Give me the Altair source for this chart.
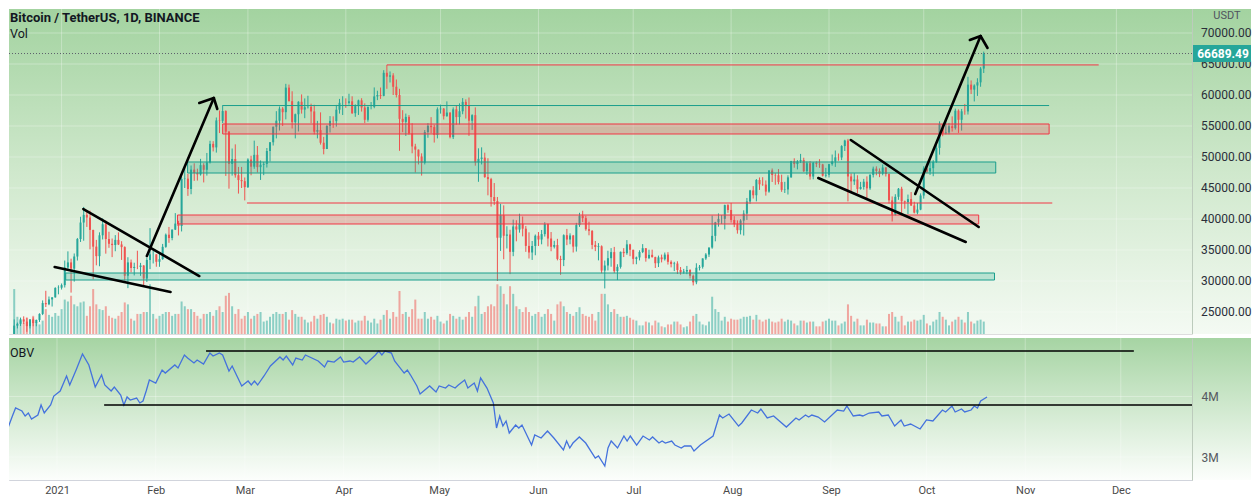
import altair as alt
import pandas as pd

TEAL = "#26a69a"
RED = "#ef5350"

# ---------------- candle data (BTCUSDT 1D, BINANCE) ----------------
# day index = days from 2021-01-01; each month list starts at its first day
start_dec, start_jan, start_feb, start_mar, start_apr, start_may = -15, 0, 31, 59, 90, 120
start_jun, start_jul, start_aug, start_sep, start_oct = 151, 181, 212, 243, 273
open_first = 21300

close_dec = [22800, 23100, 23820, 23450, 22720, 23810, 23220, 23720, 24690, 26440, 26250, 27030, 27360, 28880, 28920]
high_dec = [23800, 23300, 24100, 24300, 24100, 23840, 24150, 23780, 24790, 26870, 28420, 27500, 27400, 28990, 29300]
low_dec = [21200, 22350, 22750, 23060, 21800, 22350, 22700, 22700, 23400, 24500, 25800, 26100, 25880, 27320, 27850]
vol_dec = [235, 90, 70, 60, 85, 70, 95, 60, 50, 70, 130, 100, 90, 110, 95]

close_jan = [29330, 32180, 33000, 31990, 33950, 36770, 39430, 40670, 40240, 38240, 35540, 34010, 37370, 39150, 36770, 36000,
             35800, 36630, 35890, 35470, 30850, 33000, 32100, 32270, 32260, 32500, 30400, 33400, 34300, 34300, 33100]
high_jan = [29600, 33300, 34780, 33600, 34440, 36940, 40360, 41950, 41380, 41350, 38260, 36630, 37850, 40100, 39750, 37950,
            36850, 37400, 37850, 36420, 35600, 33830, 33460, 32950, 34880, 32920, 32560, 33780, 38530, 34930, 34320]
low_jan = [28620, 28950, 31960, 28130, 29900, 33300, 36300, 36500, 38720, 35110, 30260, 32530, 32380, 36700, 34410, 35350,
           33850, 34800, 35800, 33400, 30070, 28850, 31390, 30900, 31910, 30830, 29240, 29840, 31920, 32830, 32300]
vol_jan = [130, 180, 170, 200, 155, 145, 165, 170, 95, 145, 235, 155, 130, 125, 145, 95,
           85, 80, 95, 115, 165, 155, 80, 70, 105, 105, 115, 115, 260, 105, 80]

close_feb = [33530, 35510, 37470, 36930, 38290, 39260, 38870, 46450, 46510, 44840, 47970, 47410, 47190, 48690,
             47940, 49130, 52120, 51550, 55900, 55840, 57410, 54090, 48890, 49680, 47060, 46280, 46100, 45140]
high_feb = [34700, 35980, 37660, 38720, 38310, 40950, 39700, 46800, 48200, 47300, 48630, 48990, 48120, 49700,
            49000, 50650, 52620, 52550, 56370, 57500, 58350, 57530, 54190, 51370, 52040, 48400, 48400, 46700]
low_feb = [32290, 33420, 35360, 36160, 36570, 38220, 37350, 37990, 45000, 43730, 43990, 46150, 46200, 47000,
           45900, 47000, 48950, 50900, 50710, 53860, 55470, 46950, 44890, 47000, 46670, 44100, 45000, 43000]
vol_feb = [95, 105, 115, 115, 95, 105, 105, 170, 145, 130, 130, 115, 95, 80,
           105, 105, 115, 95, 125, 145, 115, 200, 215, 145, 105, 130, 80, 95]

close_mar = [49590, 48440, 50350, 48370, 48750, 48880, 50970, 52380, 54880, 55860, 57800, 57230, 61190, 59000, 55610, 56900,
             58910, 57650, 58030, 58100, 57350, 54080, 54340, 52300, 51290, 55030, 55820, 55780, 57630, 58740, 58740]
high_mar = [49790, 50200, 52640, 51770, 49450, 49200, 51450, 52400, 54900, 57390, 58150, 58050, 61800, 61680, 60600, 57000,
            58990, 60100, 59450, 59880, 58600, 58430, 55830, 57200, 53250, 55100, 56600, 56560, 58400, 59370, 59800]
low_mar = [45000, 47050, 48100, 47500, 46300, 47070, 48300, 49280, 51850, 53000, 54270, 55000, 56070, 58970, 54600, 53000,
           54120, 57000, 56260, 57820, 55450, 53650, 53000, 52000, 50430, 51280, 53950, 54690, 54900, 57000, 56770]
vol_mar = [115, 80, 95, 105, 115, 65, 70, 90, 105, 115, 105, 105, 115, 75, 125, 105,
           90, 90, 75, 60, 65, 95, 80, 100, 105, 90, 60, 55, 80, 75, 80]

close_apr = [58720, 58980, 57060, 58200, 59130, 57990, 56000, 58080, 58090, 59770, 60000, 59860, 63580, 62960, 63160,
             61330, 60000, 56150, 55660, 56470, 53800, 51700, 51190, 50090, 49070, 54020, 55030, 54820, 53550, 57700]
high_apr = [59460, 60200, 59790, 58490, 59250, 59480, 58650, 58150, 58870, 61220, 60690, 61200, 64000, 64850, 63800,
            63520, 62500, 61000, 57550, 57000, 56760, 55450, 52130, 51200, 50590, 54350, 55460, 56430, 55200, 58000]
low_apr = [57930, 58450, 56950, 56480, 56780, 57330, 55470, 55700, 57690, 57870, 59170, 59370, 59790, 61000, 62020,
           60000, 59600, 51000, 54000, 53400, 53600, 50600, 47500, 48800, 47000, 48800, 53100, 53850, 52330, 53000]
vol_apr = [70, 75, 75, 60, 70, 70, 95, 70, 60, 80, 55, 75, 100, 125, 80,
           115, 90, 225, 105, 115, 90, 130, 180, 80, 80, 115, 80, 90, 75, 95]

close_may = [57800, 56580, 57170, 53200, 57690, 56440, 57380, 58890, 58280, 55850, 56750, 49150, 49700, 49900, 46760, 46430,
             43540, 42900, 36980, 40600, 37300, 37500, 34700, 38800, 38300, 39240, 38440, 35660, 34600, 35650, 37300]
high_may = [58450, 57900, 58970, 57200, 58000, 58360, 58650, 59500, 59300, 59600, 56900, 58000, 51400, 51560, 50700, 49800,
            46640, 45800, 43550, 42450, 42200, 38830, 38270, 39900, 39800, 40850, 40400, 38880, 37850, 36450, 37500]
low_may = [57000, 56050, 56500, 53000, 52900, 55200, 55250, 56900, 56200, 53400, 54370, 48600, 46000, 48800, 46650, 43820,
           42000, 42250, 30000, 34850, 33500, 35250, 31110, 34000, 36400, 37800, 37200, 34700, 33630, 33400, 34150]
vol_may = [65, 55, 70, 105, 95, 80, 90, 75, 90, 115, 90, 145, 200, 105, 115, 145,
           155, 145, 260, 250, 210, 155, 250, 210, 145, 130, 115, 140, 115, 95, 105]

close_jun = [36690, 37560, 39190, 36850, 35520, 35800, 33560, 33380, 37390, 36690, 37340, 35550, 39020, 40520, 40140,
             38350, 38090, 35820, 35480, 35600, 31680, 32500, 33680, 34660, 31590, 32280, 34700, 34490, 35910, 35040]
high_jun = [37900, 38230, 39480, 39290, 37900, 36480, 36800, 34070, 37530, 38400, 37690, 37430, 39380, 41000, 41330,
            40530, 39560, 38200, 36460, 36110, 35750, 33300, 34880, 35300, 35500, 32700, 34750, 35300, 36600, 36000]
low_jun = [35650, 35920, 37170, 35570, 34800, 35250, 33330, 31000, 32400, 35780, 35930, 34600, 34750, 38730, 39500,
           38110, 37370, 35130, 34820, 33330, 31250, 28800, 31700, 32300, 31270, 30150, 32000, 33860, 34230, 34000]
vol_jun = [115, 90, 105, 130, 105, 70, 155, 170, 145, 115, 105, 95, 115, 140, 105,
           95, 90, 105, 70, 115, 210, 210, 155, 115, 130, 105, 90, 90, 95, 85]

close_jul = [33570, 33800, 34670, 35290, 33690, 34220, 33860, 32870, 33810, 33510, 34260, 33090, 32730, 32820, 31780, 31400,
             31530, 31780, 30840, 29790, 32140, 32290, 33640, 34270, 35400, 37280, 39460, 40020, 40030, 42240, 41460]
high_jul = [35040, 33940, 34950, 35950, 35290, 35050, 35060, 33920, 34100, 34260, 34590, 34650, 33330, 33100, 33180, 32250,
            31950, 32430, 31900, 31040, 32860, 32580, 33650, 34500, 35400, 40550, 39540, 40900, 40640, 42320, 42400]
low_jul = [32700, 32700, 33320, 34500, 33120, 33530, 33770, 32100, 32250, 33000, 33300, 32650, 32200, 31600, 31130, 31020,
           31170, 31100, 30400, 29280, 29480, 31700, 32000, 33400, 33880, 35200, 36400, 38770, 39200, 38310, 41000]
vol_jul = [75, 70, 45, 45, 65, 60, 45, 70, 60, 40, 35, 50, 50, 65, 65, 50,
           35, 40, 65, 95, 105, 65, 50, 45, 65, 195, 130, 115, 70, 90, 65]

close_aug = [39850, 39150, 38200, 39740, 40870, 42830, 44610, 43830, 46290, 45600, 45550, 44420, 47830, 47100, 47050, 45960,
             44700, 44760, 46720, 49340, 48860, 49300, 49500, 47700, 48990, 46850, 49070, 48900, 48810, 46990, 47130]
high_aug = [42600, 40460, 39780, 39970, 41400, 43390, 44700, 45310, 46450, 46700, 46740, 46220, 47880, 48150, 47390, 48050,
            47150, 46000, 47050, 49380, 49790, 49500, 50500, 49880, 49260, 49350, 49200, 49300, 49650, 48900, 48250]
low_aug = [39420, 38690, 37640, 37510, 37330, 39850, 42450, 43300, 42850, 44690, 45350, 43770, 44240, 45970, 45520, 45600,
           44380, 44200, 43950, 46650, 48270, 48000, 49030, 47600, 47120, 46350, 46400, 48370, 48250, 46850, 46700]
vol_aug = [80, 75, 75, 80, 90, 90, 95, 75, 100, 75, 65, 75, 80, 65, 60, 65,
           80, 65, 75, 70, 55, 45, 70, 70, 60, 65, 65, 40, 40, 65, 70]

close_sep = [48850, 49280, 49940, 49920, 51760, 52660, 46860, 46070, 46370, 44850, 45170, 46020, 44940, 47110, 48120,
             47750, 47300, 48310, 47250, 43010, 40700, 43580, 44880, 42850, 42720, 43210, 42170, 41030, 41520, 43790]
high_sep = [48900, 50400, 51050, 50560, 51900, 52780, 52920, 47350, 47400, 47050, 45990, 46470, 46880, 47250, 48450,
            48500, 48160, 48800, 48370, 47350, 43640, 44000, 45000, 45200, 42970, 43940, 44350, 42790, 42600, 44130]
low_sep = [46700, 48600, 48400, 49400, 49500, 50970, 42840, 44400, 45500, 44130, 44730, 44740, 43370, 44700, 46700,
           47050, 46750, 47050, 46850, 42500, 39600, 40570, 43100, 40700, 41650, 40800, 42100, 40900, 40750, 41420]
vol_sep = [80, 70, 70, 45, 55, 65, 155, 95, 65, 80, 45, 45, 75, 60, 60,
           55, 55, 40, 40, 105, 115, 90, 65, 95, 45, 65, 65, 75, 70, 75]

close_oct = [48140, 47660, 48200, 49220, 51470, 55320, 53800, 53960, 54960, 54660, 57470, 56000, 57370, 57350,
             61670, 60870, 61530, 62040, 64260, 66689.49]
high_oct = [48500, 48350, 49300, 49500, 51900, 55750, 55330, 56100, 55500, 56560, 57800, 57680, 57750, 58550,
            62930, 62350, 61720, 62700, 64500, 66999]
low_oct = [43280, 47400, 47120, 46900, 49050, 50380, 53350, 53650, 53670, 54100, 54420, 53880, 54250, 56820,
           56850, 60150, 58960, 59850, 61330, 63550]
vol_oct = [100, 55, 45, 65, 75, 115, 90, 75, 45, 65, 75, 90, 75, 60, 115, 65, 55, 70, 75, 65]

# ---------------- OBV (millions) ----------------
obv_day = [-18, -16, -14, -13, -11, -10, -9, -8, -6, -5, -4, -2, -1, 1, 3, 4, 6, 8, 10, 12, 14, 15, 17, 18, 20, 21, 22, 23,
           25, 26, 27, 28, 29, 31, 33, 34, 37, 38, 40, 41, 43, 44, 46, 48, 49, 51, 52, 54, 55, 58, 60, 61, 62, 63, 65, 67,
           70, 71, 72, 74, 75, 77, 78, 82, 84, 85, 87, 89, 90, 92, 93, 95, 97, 100, 101, 102, 103, 105, 106, 109, 110,
           111, 113, 114, 117, 119, 120, 122, 123, 125, 126, 128, 129, 131, 132, 133, 135, 137, 138, 139, 140, 141, 142,
           144, 145, 146, 149, 150, 152, 154, 156, 159, 160, 161, 162, 164, 166, 169, 170, 172, 173, 174, 176, 178, 179,
           180, 182, 184, 186, 187, 189, 190, 191, 193, 194, 196, 197, 199, 200, 202, 206, 208, 209, 211, 214, 215, 218,
           220, 221, 223, 225, 229, 232, 233, 235, 236, 237, 239, 241, 245, 247, 248, 250, 252, 253, 255, 258, 259, 261,
           263, 265, 266, 268, 271, 273, 275, 278, 279, 281, 282, 284, 285, 287, 288, 289, 290, 292]
obv_val = [3.286, 3.397, 3.678, 3.810, 3.760, 3.678, 3.727, 3.628, 3.694, 3.860, 3.727, 3.860, 4.008, 4.091, 4.339, 4.190,
           4.438, 4.702, 4.521, 4.157, 4.355, 4.190, 4.091, 4.157, 4.025, 3.860, 3.992, 3.942, 3.975, 3.893, 3.926, 4.091,
           4.273, 4.223, 4.438, 4.388, 4.521, 4.471, 4.686, 4.636, 4.554, 4.603, 4.537, 4.719, 4.669, 4.719, 4.686, 4.421,
           4.504, 4.174, 4.256, 4.190, 4.256, 4.190, 4.339, 4.504, 4.653, 4.603, 4.669, 4.521, 4.636, 4.603, 4.686, 4.587,
           4.488, 4.587, 4.570, 4.653, 4.570, 4.587, 4.570, 4.653, 4.537, 4.686, 4.752, 4.686, 4.752, 4.719, 4.587, 4.388,
           4.438, 4.355, 4.174, 4.041, 4.174, 4.074, 4.174, 4.140, 4.190, 4.140, 4.190, 4.273, 4.140, 4.223, 4.091, 4.306,
           4.140, 3.893, 3.479, 3.678, 3.512, 3.595, 3.397, 3.529, 3.479, 3.529, 3.198, 3.364, 3.314, 3.430, 3.314, 3.116,
           3.264, 3.149, 3.231, 3.331, 3.231, 2.983, 3.017, 2.851, 3.149, 3.264, 3.149, 3.347, 3.264, 3.347, 3.198, 3.347,
           3.281, 3.331, 3.231, 3.264, 3.231, 3.264, 3.198, 3.149, 3.182, 3.182, 3.099, 3.198, 3.347, 3.694, 3.645, 3.711,
           3.512, 3.562, 3.777, 3.727, 3.793, 3.645, 3.678, 3.496, 3.645, 3.612, 3.694, 3.661, 3.694, 3.661, 3.579, 3.777,
           3.760, 3.843, 3.678, 3.694, 3.678, 3.727, 3.744, 3.678, 3.694, 3.512, 3.612, 3.512, 3.545, 3.463, 3.612, 3.595,
           3.777, 3.744, 3.843, 3.744, 3.793, 3.744, 3.777, 3.843, 3.810, 3.926, 3.992]

# OBV horizontal levels (start day, end day, value in M)
obvline_x1 = [14.8, 46.8]
obvline_x2 = [356.4, 338.1]
obvline_v = [3.860, 4.752]

# ---------------- drawings on the price pane ----------------
zone_x1 = [51.0, 39.9, 36.7, 1.3]
zone_x2 = [312.7, 295.8, 290.4, 295.4]
zone_top = [55323, 49194, 40645, 31290]
zone_bot = [53710, 47419, 39194, 30161]
zone_kind = ["red", "teal", "red", "teal"]

hline_x1 = [103.0, 51.0, 58.7]
hline_x2 = [328.4, 312.7, 313.7]
hline_price = [64850, 58300, 42580]
hline_kind = ["red", "teal", "red"]

seg_x1 = [6.9, -2.2, 27.0, 48.2, 48.2, 249.9, 239.6, 270.3, 291.0, 291.0]
seg_y1 = [41613, 32258, 34032, 59516, 59516, 52742, 46613, 44032, 69516, 69516]
seg_x2 = [43.6, 34.5, 48.2, 43.6, 49.3, 290.4, 286.3, 291.0, 287.6, 293.2]
seg_y2 = [30806, 28226, 59516, 58710, 57742, 38710, 36290, 69516, 68871, 67581]

# ---------------- axes ----------------
price_ticks = [25000, 30000, 35000, 40000, 45000, 50000, 55000, 60000, 65000, 70000]
obv_ticks = [3, 4]
month_days = [0, 31, 59, 90, 120, 151, 181, 212, 243, 273, 304, 334]
month_labels = ["2021", "Feb", "Mar", "Apr", "May", "Jun", "Jul", "Aug", "Sep", "Oct", "Nov", "Dec"]

# ---------------- build tables ----------------
months = [
    (start_dec, high_dec, low_dec, close_dec, vol_dec),
    (start_jan, high_jan, low_jan, close_jan, vol_jan),
    (start_feb, high_feb, low_feb, close_feb, vol_feb),
    (start_mar, high_mar, low_mar, close_mar, vol_mar),
    (start_apr, high_apr, low_apr, close_apr, vol_apr),
    (start_may, high_may, low_may, close_may, vol_may),
    (start_jun, high_jun, low_jun, close_jun, vol_jun),
    (start_jul, high_jul, low_jul, close_jul, vol_jul),
    (start_aug, high_aug, low_aug, close_aug, vol_aug),
    (start_sep, high_sep, low_sep, close_sep, vol_sep),
    (start_oct, high_oct, low_oct, close_oct, vol_oct),
]
rows = []
prev = open_first
for start, hs, ls, cs, vs in months:
    for i, (h, l, c, v) in enumerate(zip(hs, ls, cs, vs)):
        o = prev
        rows.append({"day": start + i, "open": o, "close": c,
                     "high": max(h, o, c), "low": min(l, o, c), "volume": v})
        prev = c
cdf = pd.DataFrame(rows)
last_close = float(cdf["close"].iloc[-1])

obv_df = pd.DataFrame({"day": obv_day, "v": obv_val})
obvl_df = pd.DataFrame({"x1": obvline_x1, "x2": obvline_x2, "v": obvline_v})
zone_df = pd.DataFrame({"x1": zone_x1, "x2": zone_x2, "top": zone_top, "bot": zone_bot, "kind": zone_kind})
hl_df = pd.DataFrame({"x1": hline_x1, "x2": hline_x2, "price": hline_price, "kind": hline_kind})
seg_df = pd.DataFrame({"x1": seg_x1, "y1": seg_y1, "x2": seg_x2, "y2": seg_y2})
ptick_df = pd.DataFrame({"price": price_ticks, "label": [f"{p:.2f}" for p in price_ticks]})
otick_df = pd.DataFrame({"v": obv_ticks})
month_df = pd.DataFrame({"day": month_days})
last_df = pd.DataFrame({"price": [last_close], "label": [f"{last_close:.2f}"]})
one = pd.DataFrame({"a": [0]})

# ---------------- layout ----------------
W, PH, OH = 1183, 325, 142
RIGHT = 1242
xs = alt.Scale(domain=[-15.07, 356.36], nice=False, zero=False)
ps = alt.Scale(domain=[21452, 73871], nice=False, zero=False)
os_ = alt.Scale(domain=[2.62, 4.967], nice=False, zero=False)
FONT = "Roboto"

kind_fill = alt.Scale(domain=["red", "teal"], range=["#f23645", "#22ab94"])
kind_stroke = alt.Scale(domain=["red", "teal"], range=["#f23645", "#1a9e8c"])
up = alt.datum.close >= alt.datum.open
candle_color = alt.condition(up, alt.value(TEAL), alt.value(RED))


def PX(f):
    return alt.X(f, type="quantitative", scale=xs, axis=None)


def PY(f):
    return alt.Y(f, type="quantitative", scale=ps, axis=None)


grad_price = alt.Gradient(gradient="linear",
                          stops=[alt.GradientStop(color="#a3d3a0", offset=0),
                                 alt.GradientStop(color="#cfe8cc", offset=0.5),
                                 alt.GradientStop(color="#f4faf3", offset=1)],
                          x1=0, x2=0, y1=0, y2=1)
grad_obv = alt.Gradient(gradient="linear",
                        stops=[alt.GradientStop(color="#a6d4a3", offset=0),
                               alt.GradientStop(color="#fcfefc", offset=1)],
                        x1=0, x2=0, y1=0, y2=1)

bg_p = alt.Chart(one).mark_rect(color=grad_price).encode(
    x=alt.value(0), x2=alt.value(RIGHT), y=alt.value(0), y2=alt.value(PH))
vgrid_p = alt.Chart(month_df).mark_rule(color="#ffffff", opacity=0.3, strokeWidth=1).encode(x=PX("day"))
hgrid_p = alt.Chart(ptick_df).mark_rule(color="#ffffff", opacity=0.3, strokeWidth=1).encode(y=PY("price"))

vol = alt.Chart(cdf).mark_bar(width=2, opacity=0.5).encode(
    x=PX("day"),
    y=alt.Y("volume:Q", scale=alt.Scale(domain=[0, 1700], nice=False, zero=True), axis=None),
    color=candle_color)
wick = alt.Chart(cdf).mark_rule(strokeWidth=1, clip=True).encode(
    x=PX("day"), y=PY("low"), y2="high:Q", color=candle_color)
body = alt.Chart(cdf).mark_bar(width=2, clip=True).encode(
    x=PX("day"), y=PY("open"), y2="close:Q", color=candle_color)

zones = alt.Chart(zone_df).mark_rect(fillOpacity=0.24, strokeWidth=1).encode(
    x=PX("x1"), x2="x2:Q", y=PY("top"), y2="bot:Q",
    fill=alt.Fill("kind:N", scale=kind_fill, legend=None),
    stroke=alt.Stroke("kind:N", scale=kind_stroke, legend=None))
hlines = alt.Chart(hl_df).mark_rule(strokeWidth=1).encode(
    x=PX("x1"), x2="x2:Q", y=PY("price"),
    color=alt.Color("kind:N", scale=kind_stroke, legend=None))
cur = alt.Chart(last_df).mark_rule(color="#5d606b", strokeDash=[1, 2], strokeWidth=1).encode(y=PY("price"))
segs = alt.Chart(seg_df).mark_rule(color="#000000", strokeWidth=2.6, strokeCap="round", clip=True).encode(
    x=PX("x1"), x2="x2:Q", y=PY("y1"), y2="y2:Q")

sep_p = alt.Chart(one).mark_rule(color="#bccbbc", strokeWidth=1).encode(
    x=alt.value(W + 0.5), y=alt.value(0), y2=alt.value(PH))
plabels = alt.Chart(ptick_df).mark_text(align="left", baseline="middle", fontSize=12, font=FONT,
                                        color="#2a2e39").encode(
    x=alt.value(W + 9), y=PY("price"), text="label:N")
usdt = alt.Chart(one).mark_text(text="USDT", align="center", baseline="middle", fontSize=11, font=FONT,
                                color="#50535e").encode(x=alt.value(W + 35), y=alt.value(7))
tag = alt.Chart(last_df).transform_calculate(t="datum.price + 1371", b="datum.price - 1371").mark_rect(
    color=TEAL).encode(x=alt.value(W + 1), x2=alt.value(RIGHT), y=PY("t"), y2="b:Q")
tag_text = alt.Chart(last_df).mark_text(align="center", baseline="middle", fontSize=12, font=FONT,
                                        fontWeight="bold", color="#ffffff").encode(
    x=alt.value(W + 31), y=PY("price"), text="label:N")
title = alt.Chart(one).mark_text(text="Bitcoin / TetherUS, 1D, BINANCE", align="left", baseline="middle",
                                 fontSize=13, font=FONT, fontWeight="bold", color="#131722").encode(
    x=alt.value(1), y=alt.value(9))
vol_txt = alt.Chart(one).mark_text(text="Vol", align="left", baseline="middle", fontSize=12.5, font=FONT,
                                   color="#131722").encode(x=alt.value(1), y=alt.value(25))

price = alt.layer(bg_p, vgrid_p, hgrid_p, vol, wick, body, zones, hlines, cur, segs, sep_p,
                  plabels, usdt, tag, tag_text, title, vol_txt).resolve_scale(
    y="independent").properties(width=W, height=PH)

# ---------------- OBV pane ----------------
label_expr = " : ".join(f"datum.value == {d} ? '{m}'" for d, m in zip(month_days, month_labels)) + " : ''"
x_axis = alt.Axis(values=month_days, labelExpr=label_expr, grid=False, ticks=False, domain=True,
                  domainColor="#d1d4dc", labelColor="#4a4a4a", labelFontSize=11, labelFont=FONT,
                  labelPadding=4, labelOverlap=False, labelFlush=False, title=None, zindex=1)
y_axis = alt.Axis(orient="right", values=obv_ticks, labelExpr="datum.value + 'M'", grid=False, ticks=False,
                  domain=True, domainColor="#bccbbc", labelColor="#55585f", labelFontSize=12, labelFont=FONT,
                  labelPadding=9, title=None, zindex=1)


def OX(f):
    return alt.X(f, type="quantitative", scale=xs, axis=x_axis)


def OY(f):
    return alt.Y(f, type="quantitative", scale=os_, axis=y_axis)


bg_o = alt.Chart(one).mark_rect(color=grad_obv).encode(
    x=alt.value(0), x2=alt.value(RIGHT), y=alt.value(0), y2=alt.value(OH))
vgrid_o = alt.Chart(month_df).mark_rule(color="#ffffff", opacity=0.3, strokeWidth=1).encode(x=OX("day"))
hgrid_o = alt.Chart(otick_df).mark_rule(color="#ffffff", opacity=0.3, strokeWidth=1).encode(y=OY("v"))
obv_line = alt.Chart(obv_df).mark_line(color="#4472dd", strokeWidth=1.3, clip=True).encode(
    x=OX("day"), y=OY("v"))
obv_rules = alt.Chart(obvl_df).mark_rule(color="#000000", strokeWidth=1.3, clip=True).encode(
    x=OX("x1"), x2="x2:Q", y=OY("v"))
obv_txt = alt.Chart(one).mark_text(text="OBV", align="left", baseline="middle", fontSize=12.5, font=FONT,
                                   color="#131722").encode(x=alt.value(1), y=alt.value(15))

obv = alt.layer(bg_o, vgrid_o, hgrid_o, obv_line, obv_rules, obv_txt).properties(width=W, height=OH)

chart = alt.vconcat(price, obv, spacing=2, padding=0).configure_view(stroke=None).configure(
    background="#ffffff")

chart.save("out.html", embed_options={"renderer": "svg", "actions": False})
